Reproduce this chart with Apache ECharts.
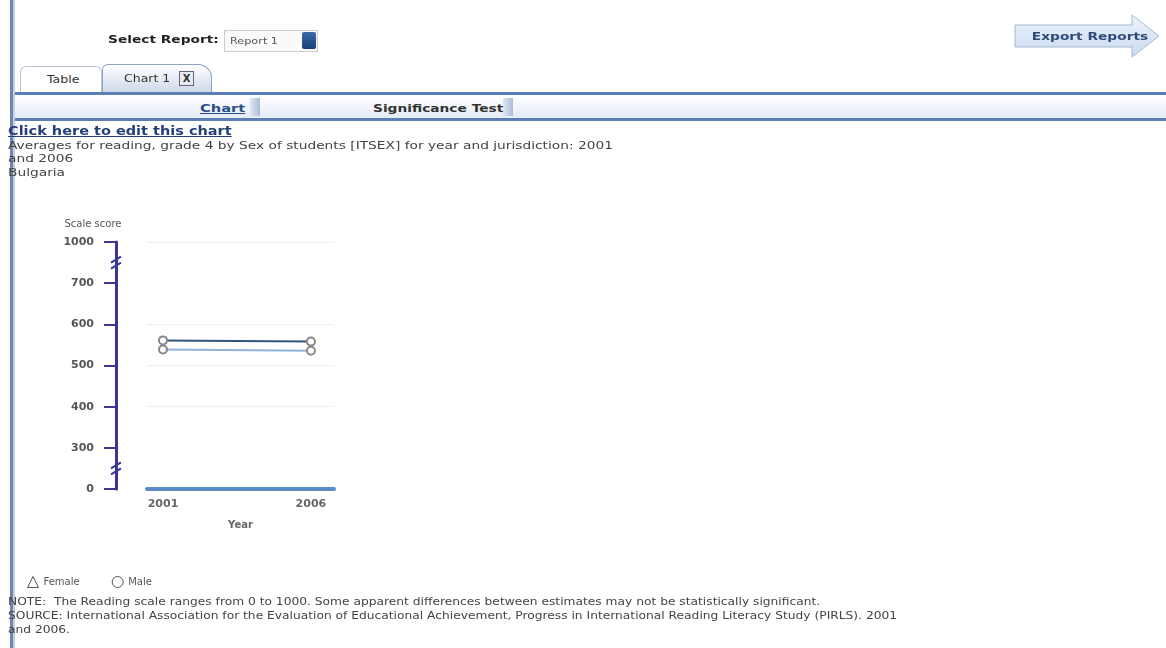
<!DOCTYPE html>
<html>
<head>
<meta charset="utf-8">
<script src="https://cdn.jsdelivr.net/npm/echarts@6.0.0/dist/echarts.min.js"></script>
<style>
  body { margin:0; width:1166px; height:648px; background:#fff; font-family:"DejaVu Sans", Verdana, sans-serif; color:#333; overflow:hidden; position:relative; }
  .abs { position:absolute; white-space:nowrap; }
  .sx { transform-origin:0 0; transform:scaleX(1.25); }
  #leftbar { left:10px; top:0; width:3px; height:648px; background:#6f86b0; border-right:2px solid #c3cfe2; }
  #selLabel { left:108px; top:33px; font-size:11px; font-weight:bold; color:#222; }
  #selBox { left:224px; top:30px; width:92px; height:20px; border:1px solid #c8ccd4; background:#fafafa; font-size:9px; color:#555; }
  #selBox span { position:absolute; left:5px; top:5px; }
  #selBtn { left:77px; top:1px; width:14px; height:17px; background:linear-gradient(#3c6aa8,#18407a); border-radius:2px; }
  #export { left:1014px; top:14px; width:146px; height:44px; }
  #tabTable { left:20px; top:66px; width:80px; height:26px; border:1px solid #b8c4d8; border-bottom:none; border-radius:6px 6px 0 0; background:#fff; font-size:10px; }
  #tabChart { left:102px; top:64px; width:108px; height:28px; border:1px solid #8fa2c4; border-bottom:none; border-radius:6px 14px 0 0; background:linear-gradient(#ffffff,#cdd8e8); font-size:10px; }
  #tabChart .x { position:absolute; left:76px; top:6px; width:13px; height:13px; border:1px solid #667; background:#e8ecf2; font-size:10px; line-height:13px; text-align:center; font-weight:bold; }
  #bar1 { left:15px; top:92px; width:1151px; height:3px; background:#5b7fb5; }
  #band { left:15px; top:95px; width:1151px; height:23px; background:linear-gradient(#ffffff,#e4ebf5); }
  #bar2 { left:15px; top:118px; width:1151px; height:3px; background:#5b7fb5; }
  #tChart { left:200px; top:102px; font-size:11px; font-weight:bold; color:#2b4f86; text-decoration:underline; transform:scaleX(1.33); }
  #tSig { left:373px; top:102px; font-size:11px; font-weight:bold; color:#333; }
  .sep { position:absolute; top:98px; width:10px; height:18px; background:linear-gradient(90deg,#dfe7f2,#a9bdd8); }
  #edit { left:8px; top:124px; font-size:11.5px; font-weight:bold; color:#243f78; text-decoration:underline; transform:scaleX(1.26); }
  .t { font-size:10.5px; color:#444; transform:scaleX(1.31); }
  .n { font-size:10px; color:#444; transform:scaleX(1.225); }
  #chart { position:absolute; left:0; top:0; width:1166px; height:648px; }
</style>
</head>
<body>
<div id="chart"></div>
<div class="abs" id="leftbar"></div>
<div class="abs sx" id="selLabel">Select Report:</div>
<div class="abs" id="selBox"><span class="sx">Report 1</span><div class="abs" id="selBtn"></div></div>
<svg class="abs" id="export" viewBox="0 0 146 44">
  <defs><linearGradient id="g" x1="0" y1="0" x2="0" y2="1"><stop offset="0" stop-color="#eef4fb"/><stop offset="1" stop-color="#c9daf0"/></linearGradient></defs>
  <path d="M1 11 H118 V1 L145 22 L118 43 V33 H1 Z" fill="url(#g)" stroke="#a8b8cc" stroke-width="1"/>
  <text x="76" y="26" text-anchor="middle" font-family="DejaVu Sans" font-size="11" font-weight="bold" fill="#2f4a78" transform="translate(76 0) scale(1.25 1) translate(-76 0)" >Export Reports</text>
</svg>
<div class="abs" id="tabTable"><span class="abs sx" style="left:26px;top:7px;">Table</span></div>
<div class="abs" id="tabChart"><span class="abs sx" style="left:21px;top:8px;">Chart 1</span><div class="x">X</div></div>
<div class="abs" id="bar1"></div>
<div class="abs" id="band"></div>
<div class="abs" id="bar2"></div>
<div class="sep" style="left:250px;"></div>
<div class="sep" style="left:503px;"></div>
<div class="abs" id="tChart" style="transform-origin:0 0;">Chart</div>
<div class="abs sx" id="tSig">Significance Test</div>
<div class="abs" id="edit" style="transform-origin:0 0;">Click here to edit this chart</div>
<div class="abs t" style="left:8px;top:139px;transform-origin:0 0;">Averages for reading, grade 4 by Sex of students [ITSEX] for year and jurisdiction: 2001</div>
<div class="abs t" style="left:8px;top:152px;transform-origin:0 0;">and 2006</div>
<div class="abs t" style="left:8px;top:166px;transform-origin:0 0;">Bulgaria</div>
<div class="abs n" style="left:8px;top:596px;transform-origin:0 0;">NOTE:&nbsp; The Reading scale ranges from 0 to 1000. Some apparent differences between estimates may not be statistically significant.</div>
<div class="abs n" style="left:8px;top:610px;transform-origin:0 0;">SOURCE: International Association for the Evaluation of Educational Achievement, Progress in International Reading Literacy Study (PIRLS). 2001</div>
<div class="abs n" style="left:8px;top:624px;transform-origin:0 0;">and 2006.</div>
<script>
var years = [2001, 2006];
var female = [561, 558];
var male = [539, 536];
var yearLabels = [2001, 2006];
var axisBreaks = [{ start: 0, end: 300 }, { start: 700, end: 1000 }];

var chart = echarts.init(document.getElementById('chart'));
var font = 'DejaVu Sans';
var axisColor = '#3b3595';

var option = {
  animation: false,
  grid: { left: 147, top: 242, width: 187, height: 247 },
  legend: {
    left: 27, top: 576, padding: 0,
    itemWidth: 11, itemHeight: 11, itemGap: 32,
    textStyle: { fontFamily: font, fontSize: 10, color: '#555' },
    data: [
      { name: 'Female', icon: 'triangle', itemStyle: { color: '#fff', borderColor: '#555', borderWidth: 1 } },
      { name: 'Male', icon: 'circle', itemStyle: { color: '#fff', borderColor: '#555', borderWidth: 1 } }
    ]
  },
  xAxis: {
    type: 'value', min: 2000.46, max: 2006.78,
    name: 'Year', nameLocation: 'middle', nameGap: 31,
    nameTextStyle: { fontFamily: font, fontSize: 10, fontWeight: 'bold', color: '#666' },
    axisLine: { lineStyle: { color: '#5b8cc8', width: 4 } },
    axisTick: { show: false },
    splitLine: { show: false },
    axisLabel: { customValues: yearLabels, formatter: function (v) { return String(v); }, fontFamily: font, fontSize: 11, fontWeight: 'bold', color: '#666', margin: 10 }
  },
  yAxis: [{
    type: 'value', min: 0, max: 1000, interval: 100,
    position: 'left', offset: 31,
    breaks: axisBreaks.map(function (b) { return { start: b.start, end: b.end, gap: 100 }; }),
    breakArea: { show: false },
    name: 'Scale score', nameLocation: 'end', nameGap: 13,
    nameTextStyle: { fontFamily: font, fontSize: 10, color: '#555', align: 'center', padding: [0, 46, 0, 0] },
    axisLine: { show: true, lineStyle: { color: axisColor, width: 3 } },
    axisTick: { show: true, length: 12, lineStyle: { color: axisColor, width: 2 } },
    axisLabel: { formatter: function (v) { return String(v); }, fontFamily: font, fontSize: 11, fontWeight: 'bold', color: '#555', margin: 22 },
    splitLine: { lineStyle: { color: '#eeeeee', width: 1 } }
  }, {
    // plain continuous axis line behind the broken scale
    type: 'value', min: 0, max: 1000,
    position: 'left', offset: 31,
    axisLine: { show: true, lineStyle: { color: axisColor, width: 3 } },
    axisTick: { show: false }, axisLabel: { show: false }, splitLine: { show: false }
  }],
  series: [
    {
      name: 'Female', type: 'line',
      data: years.map(function (y, i) { return [y, female[i]]; }),
      symbol: 'emptyCircle', symbolSize: 8,
      lineStyle: { color: '#2f557f', width: 2 },
      itemStyle: { color: '#888', borderColor: '#888', borderWidth: 1.5 }
    },
    {
      name: 'Male', type: 'line',
      data: years.map(function (y, i) { return [y, male[i]]; }),
      symbol: 'emptyCircle', symbolSize: 8,
      lineStyle: { color: '#8fb3dc', width: 2 },
      itemStyle: { color: '#888', borderColor: '#888', borderWidth: 1.5 }
    }
  ]
};
chart.setOption(option);

// "//" break marks on the axis line, placed from the axis scale
var axisX = chart.convertToPixel({ gridIndex: 0 }, [2000.46, 0])[0] - 31;
var marks = [];
axisBreaks.forEach(function (b) {
  var y0 = chart.convertToPixel({ yAxisIndex: 0 }, b.start);
  var y1 = chart.convertToPixel({ yAxisIndex: 0 }, b.end);
  var ym = (y0 + y1) / 2;
  [-3, 3].forEach(function (d) {
    marks.push({
      type: 'line',
      shape: { x1: axisX - 5, y1: ym + d + 3, x2: axisX + 5, y2: ym + d - 3 },
      style: { stroke: axisColor, lineWidth: 2 }
    });
  });
  marks.push({
    type: 'rect', z: -1,
    shape: { x: axisX - 2, y: ym - 2, width: 4, height: 4 },
    style: { fill: '#fff' }
  });
});
chart.setOption({ graphic: marks });
</script>
</body>
</html>
